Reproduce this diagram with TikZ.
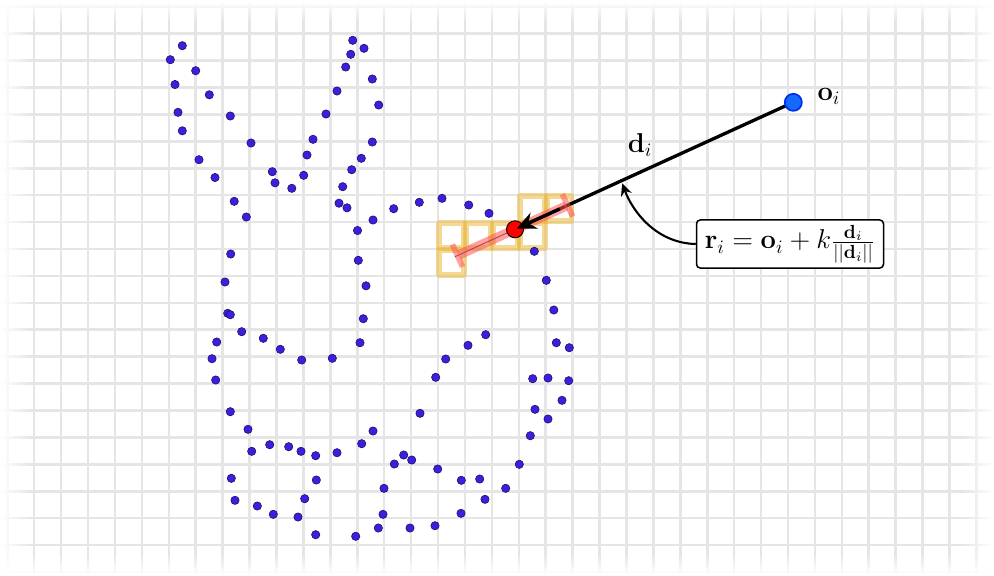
\documentclass[tikz,border=0pt]{standalone}
\usetikzlibrary{arrows.meta,fadings,calc}
\definecolor{gridgray}{RGB}{229,229,229}
\definecolor{ptblue}{RGB}{58,32,222}
\definecolor{ptedge}{RGB}{25,15,100}
\definecolor{oblue}{RGB}{20,105,255}
\definecolor{oedge}{RGB}{0,45,235}
\definecolor{voxel}{RGB}{235,180,45}
\definecolor{bandred}{RGB}{255,85,85}
\begin{document}
\begin{tikzpicture}[x=0.018574cm,y=-0.018574cm,
  gridline/.style={draw=gridgray,line width=1.35pt},
  fadebox/.style={fill=white,draw=none},
  voxelbox/.style={draw=voxel,opacity=0.5,line width=3pt,line join=round},
  cloudpt/.style={fill=ptblue,draw=ptedge,line width=0.3pt},
  raystyle/.style={line width=1.75pt,draw=black},
  bandstyle/.style={draw=bandred,opacity=0.55,line width=5pt,
     {Bar[width=13pt,line width=3pt]}-{Bar[width=13pt,line width=3pt]}},
  hitpt/.style={circle,fill=red,draw=black,line width=0.5pt,minimum size=9pt,inner sep=0pt},
  originpt/.style={circle,fill=oblue,draw=oedge,line width=0.9pt,minimum size=9pt,inner sep=0pt},
  eqbox/.style={draw=black,fill=white,rounded corners=2pt,line width=0.8pt,
     minimum width=98.8pt,minimum height=25.4pt,inner sep=2pt,font=\Large}]
% background and bounding box
\fill[white] (0,0) rectangle (994,575);
\useasboundingbox (0,0) rectangle (994,575);
% grid
\foreach \i in {0,...,36} \draw[gridline] ({7.3+26.92*\i},0) -- ({7.3+26.92*\i},575);
\foreach \j in {0,...,21} \draw[gridline] (0,{6.7+26.92*\j}) -- (994,{6.7+26.92*\j});
% faded margins
\fill[fadebox,path fading=east] (0,0) rectangle (32,575);
\fill[fadebox,path fading=west] (962,0) rectangle (994,575);
\fill[fadebox,path fading=south] (0,0) rectangle (994,22);
\fill[fadebox,path fading=north] (0,553) rectangle (994,575);
% voxels
\foreach \i/\j in {16/8,16/9,17/8,18/8,19/8,19/7,20/7}
  \draw[voxelbox] ({7.3+26.92*\i+1},{6.7+26.92*\j+1}) rectangle ({7.3+26.92*(\i+1)-1},{6.7+26.92*(\j+1)-1});
% point cloud
\foreach \x/\y in {182.3/45.7,170.3/59.7,195.7/70.7,175/84.5,209.3/94.8,178/112.3,230.3/116,182.3/130.8,
  251/143,199/159.7,215/177.5,272.3/171.7,275/182.8,291.8/188.3,303.7/175.3,307/155,313/139.3,326/114,
  337/91,345.7/67,350.7/54.3,352.7/40.3,364/48.3,372.3/79,378.7/105,372.3/142,361.3/158.3,351.7/169.7,
  342.7/186.7,339/203.2,347/207.8,234.2/201.3,246.3/217,357.5/230.5,373/220,393.7/208.7,419.3/202.3,
  442/198.3,468.7/205,489/213.3,230.7/254,358.3/260.3,534.3/251.3,
  225/282,366/285.8,546.3/280.3,227.7/313.3,230.3/314.7,363.3/318.7,553.8/310,241.7/331.7,216.7/342,
  263.3/338.3,280.3/349.3,301.7/360,332.3/358.3,360/342.7,212/358.7,215.7/380,485.7/334.7,468/345.3,
  445.7/359,435.7/377.3,556.3/342.7,569.3/347.7,532.7/378.7,548/378,568.7/380.7,562/400.3,535/409.3,
  548/419,530.3/435.7,420/413.3,230.3/411.7,248/429.3,373/431,361.7/443.7,251.7/451.3,269.7/444.7,
  288.7/446.7,301/451.3,315.7/455.7,337/452.7,403.7/455,411.7/460,394.3/464,437.7/469,519.3/464.3,
  461.3/480.3,479.7/479,505.7/488.3,485/499.3,461/513.3,435/525.7,410/528,378.3/528,383/514.3,
  384/488.3,355.7/536.3,315.7/534.7,298/517,304.7/498.7,316.3/480,273.3/514.3,257.3/506,235/500.3,
  231.3/478.3}
  \fill[cloudpt] (\x,\y) circle[radius=2.2pt];
% ray
\coordinate (oc) at (793.3,102.3);
\coordinate (rc) at (515,229.3);
\coordinate (bandL) at ($(oc)!1.216!(rc)$);
\coordinate (bandR) at ($(oc)!0.802!(rc)$);
\coordinate (tipc) at ($(oc)!0.615!(rc)$);
\draw[raystyle] (oc) -- (rc);
\draw[line width=0.45pt,draw=black!80] (bandL) -- (rc);
\draw[bandstyle] (bandL) -- (bandR);
\node[hitpt] (r) at (rc) {};
\draw[raystyle,-{Stealth[length=10pt,width=9pt]}] ($(rc)!26pt!(oc)$) -- ($(rc)!1pt!(oc)$);
\node[originpt] (o) at (oc) {};
% labels
\node[font=\Large,anchor=center] (olab) at (829,96) {$\mathbf{o}_i$};
\node[font=\Large,anchor=center] (dlab) at (640,145) {$\mathbf{d}_i$};
\node[eqbox] (eq) at (790,244) {$\mathbf{r}_i = \mathbf{o}_i + k\frac{\mathbf{d}_i}{||\mathbf{d}_i||}$};
\draw[line width=1.1pt,-{Stealth[length=6.5pt,width=6pt]}] (eq.west) .. controls (655,243) and (632,210) .. ([yshift=-1.5pt]tipc);
\end{tikzpicture}
\end{document}
